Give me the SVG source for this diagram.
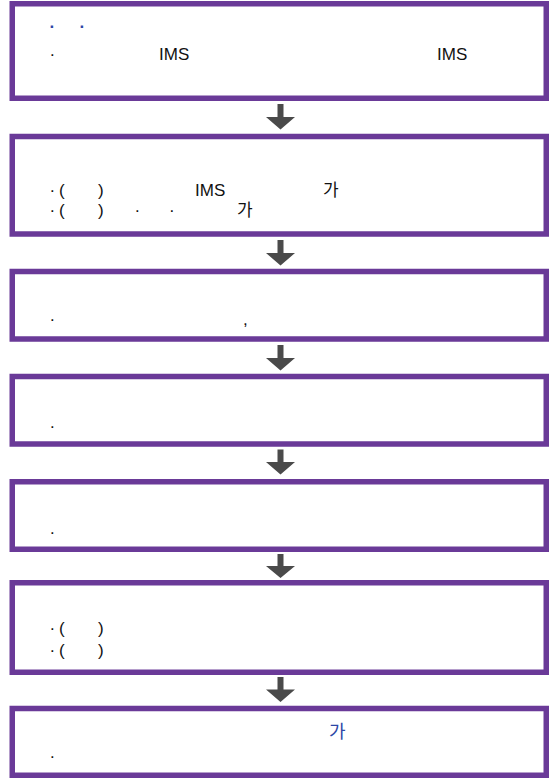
<svg xmlns="http://www.w3.org/2000/svg" width="549" height="778" viewBox="0 0 549 778">
<style>
.box{fill:#fff;stroke:#6a3a98;stroke-width:5.5}
.t{font-family:"Liberation Sans","Noto Sans CJK KR",Arial,sans-serif;font-size:17px;fill:#111}
.b{fill:#2c46a6}
.bd{font-weight:bold}
.k{font-size:18px}
.arr{fill:#4a4a4a}
</style>
<rect width="549" height="778" fill="#fff"/>
<g id="connectors">
<path class="arr" d="M277.5,104 H283.5 V117 H295 L280.5,129.5 L266,117 H277.5 Z"/>
<path class="arr" d="M277.5,240 H283.5 V253 H295 L280.5,265.5 L266,253 H277.5 Z"/>
<path class="arr" d="M277.5,345 H283.5 V358 H295 L280.5,370.5 L266,358 H277.5 Z"/>
<path class="arr" d="M277.5,449.5 H283.5 V462 H295 L280.5,474.5 L266,462 H277.5 Z"/>
<path class="arr" d="M277.5,554 H283.5 V566 H295 L280.5,578 L266,566 H277.5 Z"/>
<path class="arr" d="M277.5,677 H283.5 V689.5 H295 L280.5,702 L266,689.5 H277.5 Z"/>
</g>
<g id="node1">
<rect class="box" x="12.25" y="3.75" width="534" height="94.5"/>
<text class="t b bd" y="32"><tspan x="49.5">·</tspan><tspan x="79.5">·</tspan></text>
<text class="t" y="60"><tspan x="49.5">·</tspan><tspan x="159">IMS</tspan><tspan x="437">IMS</tspan></text>
</g>
<g id="node2">
<rect class="box" x="12.25" y="136.5" width="534" height="97.5"/>
<text class="t" y="196"><tspan x="49.5">·</tspan><tspan x="59">(</tspan><tspan x="98">)</tspan><tspan x="195">IMS</tspan><tspan x="323">가</tspan></text>
<text class="t" y="216"><tspan x="49.5">·</tspan><tspan x="59">(</tspan><tspan x="98">)</tspan><tspan x="134.5">·</tspan><tspan x="169">·</tspan><tspan x="237">가</tspan></text>
</g>
<g id="node3">
<rect class="box" x="12.25" y="271.5" width="534" height="67.5"/>
<text class="t" y="325"><tspan x="49.5">·</tspan><tspan x="243">,</tspan></text>
</g>
<g id="node4">
<rect class="box" x="12.25" y="376.5" width="534" height="67.5"/>
<text class="t" y="432"><tspan x="49.5">·</tspan></text>
</g>
<g id="node5">
<rect class="box" x="12.25" y="481.75" width="534" height="67.5"/>
<text class="t" y="538"><tspan x="49.5">·</tspan></text>
</g>
<g id="node6">
<rect class="box" x="12.25" y="582.75" width="534" height="89.5"/>
<text class="t" y="634"><tspan x="49.5">·</tspan><tspan x="59">(</tspan><tspan x="98">)</tspan></text>
<text class="t" y="656"><tspan x="49.5">·</tspan><tspan x="59">(</tspan><tspan x="98">)</tspan></text>
</g>
<g id="node7">
<rect class="box" x="12.25" y="708.5" width="534" height="66.75"/>
<text class="t b k" x="329" y="738">가</text>
<text class="t" x="49.5" y="762">·</text>
</g>
</svg>
